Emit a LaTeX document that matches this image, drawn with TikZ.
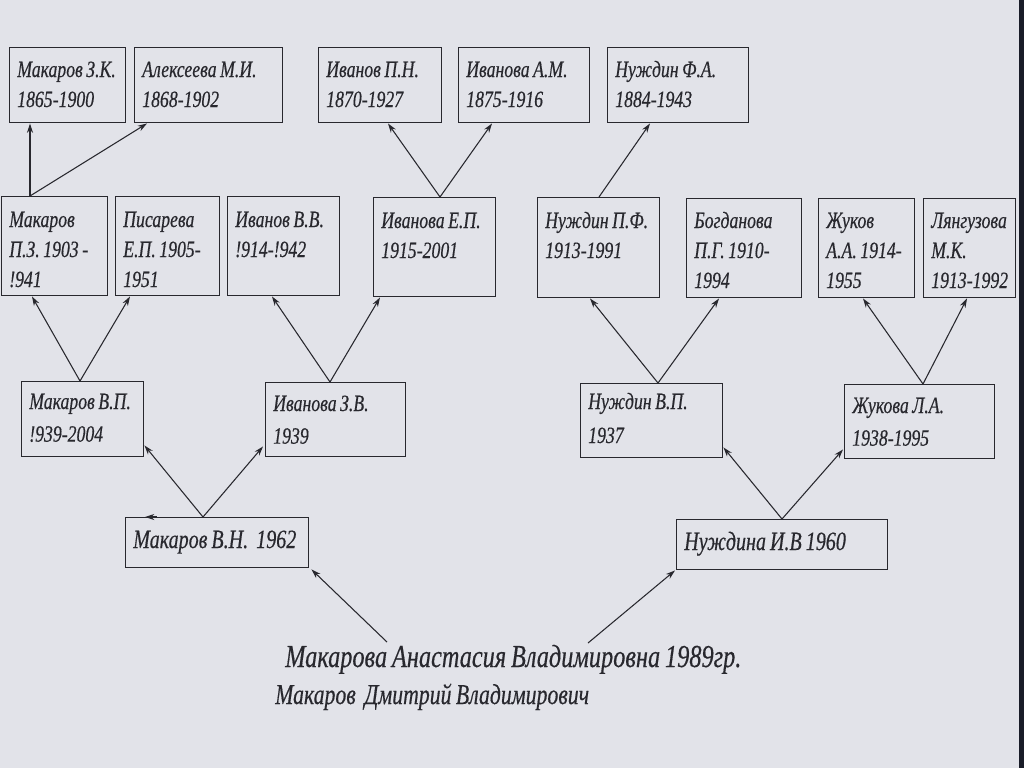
\documentclass[tikz,border=0pt]{standalone}
\usepackage{fontspec}
\setmainfont{Liberation Serif}[FakeStretch=0.76, WordSpace=0.8, FakeBold=0.4]
\usetikzlibrary{arrows.meta}
\definecolor{paper}{RGB}{226,227,233}
\definecolor{ink}{RGB}{40,40,46}
\definecolor{edge}{RGB}{25,28,40}
\tikzset{
  famBox/.style={draw=ink, line width=1.1pt, rectangle, inner sep=0pt, anchor=north west},
  famTxt/.style={inner sep=0pt, anchor=base west, align=left, text=ink,
     font=\itshape\fontsize{17.5}{22.5}\selectfont},
  famArr/.style={draw=ink, line width=0.8pt, -{Stealth[length=7pt,width=4.5pt]}},
  bigTxt/.style={inner sep=0pt, anchor=base west, text=ink}
}
\newcommand{\famperson}[8][]{% [extra], name, x1, y1, x2, y2, baseline offset, text
  \node[famBox, minimum width={(#5-#3)*0.75pt}, minimum height={(#6-#4)*0.75pt}] (#2) at (#3,#4) {};
  \node[famTxt, text width={(#5-#3-10)*0.75pt}, #1] (#2-t) at (#3+8,#4+#7) {\spaceskip=0pt\xspaceskip=0pt\relax #8};
}
\begin{document}
\begin{tikzpicture}[x=0.75pt, y=-0.75pt]
\fill[paper] (0,0) rectangle (1024,768);
\useasboundingbox (0,0) rectangle (1024,768);
\fill[edge] (1019,0) rectangle (1024,768);
% row 1
\famperson{mzk}{9}{47}{125}{122}{30}{Макаров З.К.\\1865-1900}
\famperson{ami}{134}{47}{282}{122}{30}{Алексеева М.И.\\1868-1902}
\famperson{ipn}{318}{47}{441}{122}{30}{Иванов П.Н.\\1870-1927}
\famperson{iam}{458}{47}{589}{122}{30}{Иванова А.М.\\1875-1916}
\famperson{nfa}{607}{47}{748}{122}{30}{Нуждин Ф.А.\\1884-1943}
% row 2
\famperson{mpz}{1}{196}{107}{295}{31}{Макаров\\П.З. 1903 -\\!941}
\famperson{pep}{115}{196}{219}{295}{31}{Писарева\\Е.П. 1905-\\1951}
\famperson{ivv}{227}{196}{339}{295}{31}{Иванов В.В.\\!914-!942}
\famperson{iep}{373}{197}{495}{296}{31}{Иванова Е.П.\\1915-2001}
\famperson{npf}{537}{197}{659}{297}{31}{Нуждин П.Ф.\\1913-1991}
\famperson{bpg}{686}{198}{801}{297}{30}{Богданова\\П.Г. 1910-\\1994}
\famperson{zhaa}{818}{198}{914}{297}{30}{Жуков\\А.А. 1914-\\1955}
\famperson{lmk}{923}{198}{1015}{297}{30}{Лянгузова\\М.К.\\1913-1992}
% row 3
\famperson{mvp}{21}{381}{143}{456}{28}{Макаров В.П.\\[2pt]!939-2004}
\famperson{izv}{265}{382}{405}{456}{29}{Иванова З.В.\\[2pt]1939}
\famperson{nvp}{580}{383}{722}{457}{26}{Нуждин В.П.\\[3pt]1937}
\famperson{zhla}{844}{384}{994}{458}{29}{Жукова Л.А.\\[2pt]1938-1995}
% row 4
\famperson[font=\itshape\fontsize{19.8}{24}\selectfont]{mvn}{125}{517}{308}{567}{31}{Макаров В.Н.~~1962}
\famperson[font=\itshape\fontsize{19.8}{24}\selectfont]{niv}{676}{519}{887}{569}{31}{Нуждина И.В 1960}
% bottom texts
\node[bigTxt, font=\itshape\fontsize{24}{28}\selectfont] (child1) at (285,667) {Макарова Анастасия Владимировна 1989гр.};
\node[bigTxt, font=\itshape\fontsize{21.5}{24}\selectfont] (child2) at (275,704) {Макаров~~Дмитрий Владимирович};
% arrows row2 -> row1
\draw[famArr] ([shift={(29,0)}]mpz.north west) -- ([shift={(21,0)}]mzk.south west);
\draw[famArr] ([shift={(29,0)}]mpz.north west) -- ([shift={(13,0)}]ami.south west);
\draw[famArr] ([shift={(67,0)}]iep.north west) -- ([shift={(70,0)}]ipn.south west);
\draw[famArr] ([shift={(67,0)}]iep.north west) -- ([shift={(34,0)}]iam.south west);
\draw[famArr] ([shift={(62,0)}]npf.north west) -- ([shift={(43,0)}]nfa.south west);
% arrows row3 -> row2
\draw[famArr] ([shift={(59,0)}]mvp.north west) -- ([shift={(31,0)}]mpz.south west);
\draw[famArr] ([shift={(59,0)}]mvp.north west) -- ([shift={(15,0)}]pep.south west);
\draw[famArr] ([shift={(65,0)}]izv.north west) -- ([shift={(45,0)}]ivv.south west);
\draw[famArr] ([shift={(65,0)}]izv.north west) -- ([shift={(7,0)}]iep.south west);
\draw[famArr] ([shift={(78,0)}]nvp.north west) -- ([shift={(53,0)}]npf.south west);
\draw[famArr] ([shift={(78,0)}]nvp.north west) -- ([shift={(33,0)}]bpg.south west);
\draw[famArr] ([shift={(79,0)}]zhla.north west) -- ([shift={(45,0)}]zhaa.south west);
\draw[famArr] ([shift={(79,0)}]zhla.north west) -- ([shift={(44,0)}]lmk.south west);
% arrows row4 -> row3
\draw[famArr] ([shift={(78,0)}]mvn.north west) -- ([shift={(0,-12)}]mvp.south east);
\draw[famArr] ([shift={(78,0)}]mvn.north west) -- ([shift={(-2,-11)}]izv.south west);
\draw[famArr] ([shift={(106,0)}]niv.north west) -- ([shift={(0,-11)}]nvp.south east);
\draw[famArr] ([shift={(106,0)}]niv.north west) -- ([shift={(-1,-10)}]zhla.south west);
\draw[famArr] ([shift={(32,0)}]mvn.north west) -- ([shift={(20,0)}]mvn.north west);
% arrows child -> row4
\draw[famArr] ([shift={(102,-25)}]child1.base west) -- ([shift={(2,1)}]mvn.south east);
\draw[famArr] ([shift={(303,-24)}]child1.base west) -- ([shift={(-1,0)}]niv.south west);
\end{tikzpicture}
\end{document}
